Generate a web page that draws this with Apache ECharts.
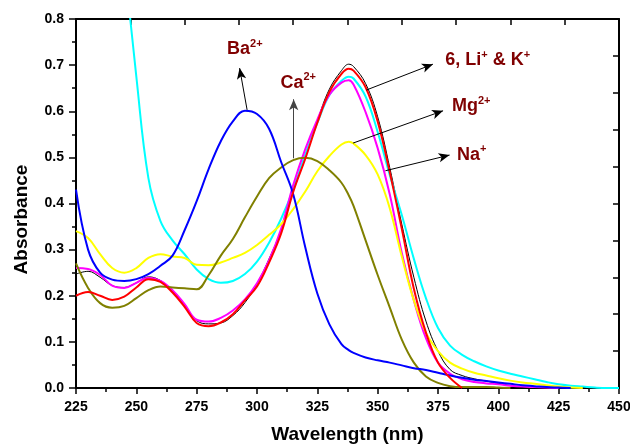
<!DOCTYPE html>
<html>
<head>
<meta charset="utf-8">
<script src="https://cdn.jsdelivr.net/npm/echarts@6/dist/echarts.min.js"></script>
<style>
  html, body { margin: 0; padding: 0; background: #fff; }
  #chart { width: 630px; height: 444px; }
</style>
</head>
<body>
<div id="chart"></div>
<script>
// wavelength grid (nm), shared by all spectra
var wavelength = [225, 230, 235, 240, 245, 250, 255, 260, 265, 270, 275, 280, 285, 290, 295,
  300, 305, 310, 315, 320, 325, 330, 335, 338, 340, 345, 350, 355, 360, 365, 370, 375, 380,
  385, 390, 395, 400, 405, 410, 415, 420, 425, 430, 435, 440, 445, 450];

// absorbance, null = not drawn
var ligand6 = [0.247, 0.253, 0.24, 0.222, 0.218, 0.228, 0.241, 0.233, 0.21, 0.18, 0.146, 0.139, 0.141, 0.157, 0.185,
  0.226, 0.28, 0.343, 0.43, 0.503, 0.58, 0.648, 0.688, 0.702, 0.697, 0.66, 0.588, 0.478, 0.355, 0.24, 0.145, 0.08, 0.04,
  0.027, 0.02, 0.015, 0.01, 0.005, 0.002, 0, null, null, null, null, null, null, null];
var potassium = [null, null, null, 1.2, 0.93, 0.675, 0.455, 0.362, 0.32, 0.29, 0.257, 0.236, 0.228, 0.232, 0.247,
  0.274, 0.315, 0.367, 0.43, 0.506, 0.575, 0.635, 0.666, 0.675, 0.671, 0.632, 0.555, 0.462, 0.375, 0.28, 0.195, 0.13, 0.092,
  0.072, 0.058, 0.047, 0.038, 0.031, 0.025, 0.019, 0.013, 0.008, 0.005, 0.003, 0.001, 0, 0];
var sodium = [0.26, 0.258, 0.245, 0.222, 0.217, 0.228, 0.239, 0.232, 0.212, 0.182, 0.148, 0.144, 0.152, 0.168, 0.192,
  0.227, 0.277, 0.345, 0.44, 0.518, 0.582, 0.636, 0.662, 0.667, 0.658, 0.598, 0.52, 0.42, 0.293, 0.19, 0.108, 0.055, 0.031,
  0.019, 0.013, 0.01, 0.008, 0.005, 0.003, 0.002, 0.001, 0, null, null, null, null, null];
var magnesium = [0.34, 0.325, 0.29, 0.26, 0.25, 0.26, 0.282, 0.29, 0.285, 0.282, 0.267, 0.266, 0.272, 0.282, 0.293,
  0.31, 0.332, 0.355, 0.388, 0.426, 0.47, 0.503, 0.528, 0.534, 0.53, 0.505, 0.463, 0.39, 0.285, 0.19, 0.12, 0.08, 0.055,
  0.042, 0.033, 0.027, 0.021, 0.016, 0.012, 0.009, 0.006, 0.003, 0.001, 0, null, null, null];
var calcium = [0.27, 0.217, 0.184, 0.174, 0.178, 0.195, 0.212, 0.22, 0.218, 0.216, 0.214, 0.245, 0.287, 0.323, 0.37,
  0.415, 0.455, 0.478, 0.494, 0.499, 0.492, 0.472, 0.445, 0.418, 0.395, 0.32, 0.245, 0.175, 0.105, 0.055, 0.025, 0.011, 0.004,
  0.002, 0.002, 0.002, 0.001, 0, null, null, null, null, null, null, null, null, null];
var barium = [0.43, 0.30, 0.25, 0.235, 0.232, 0.236, 0.247, 0.265, 0.287, 0.342, 0.405, 0.475, 0.535, 0.578, 0.601,
  0.594, 0.562, 0.49, 0.42, 0.305, 0.205, 0.138, 0.095, 0.082, 0.076, 0.066, 0.06, 0.055, 0.049, 0.043, 0.039, 0.033, 0.027,
  0.022, 0.018, 0.015, 0.012, 0.009, 0.006, 0.004, 0.002, 0.001, 0, null, null, null, null];
var lithium = [0.2, 0.208, 0.2, 0.191, 0.198, 0.218, 0.236, 0.23, 0.207, 0.176, 0.141, 0.134, 0.142, 0.16, 0.19,
  0.22, 0.272, 0.335, 0.425, 0.497, 0.575, 0.642, 0.681, 0.692, 0.688, 0.652, 0.578, 0.468, 0.345, 0.215, 0.12, 0.055, 0.022,
  0, null, null, null, null, null, null, null, null, null, null, null, null, null];

// annotation texts (anchored in data units) and arrows
var notes = [
  { text: '{b|Ba}{s|2+}', x: 287.6, y: 0.734 },
  { text: '{b|Ca}{s|2+}', x: 309.7, y: 0.662 },
  { text: '{b|6, Li}{s|+}{b| & K}{s|+}', x: 378, y: 0.711 },
  { text: '{b|Mg}{s|2+}', x: 380.8, y: 0.611 },
  { text: '{b|Na}{s|+}', x: 382.9, y: 0.506 }
];
var arrows = [
  { from: [295.9, 0.603], to: [292.8, 0.6935], color: '#000' },
  { from: [315.2, 0.498], to: [315.2, 0.626], color: '#444' },
  { from: [345.3, 0.646], to: [372.9, 0.702], color: '#000' },
  { from: [339.8, 0.531], to: [377.1, 0.601], color: '#000' },
  { from: [353.2, 0.471], to: [379.8, 0.505], color: '#000' }
];

var FONT = '"Liberation Sans", Arial, Helvetica, sans-serif';

var curves = [
  { name: '6', color: '#000000', width: 1, values: ligand6 },
  { name: 'K+', color: '#00ffff', width: 2, values: potassium },
  { name: 'Na+', color: '#ff00ff', width: 2, values: sodium },
  { name: 'Mg2+', color: '#ffff00', width: 2, values: magnesium },
  { name: 'Ca2+', color: '#808000', width: 2, values: calcium },
  { name: 'Ba2+', color: '#0000ff', width: 2, values: barium },
  { name: 'Li+', color: '#ff0000', width: 2, values: lithium }
];

var toPairs = function(values) {
  var out = [];
  for (var i = 0; i < values.length; i++) {
    if (values[i] !== null) out.push([wavelength[i], values[i]]);
  }
  return out;
};

var series = curves.map(function(c) {
  return {
    name: c.name,
    type: 'line',
    data: toPairs(c.values),
    smooth: 0.4,
    showSymbol: false,
    clip: true,
    lineStyle: { color: c.color, width: c.width },
    itemStyle: { color: c.color }
  };
});

series[series.length - 1].markLine = {
  silent: true,
  symbol: ['none', 'arrow'],
  symbolSize: [7, 11],
  label: { show: false },
  lineStyle: { color: '#000', width: 1, type: 'solid' },
  data: arrows.map(function(a) {
    return [
      { coord: a.from, lineStyle: { color: a.color }, itemStyle: { color: a.color } },
      { coord: a.to, itemStyle: { color: a.color } }
    ];
  })
};

var labelStyle = { color: '#000', fontWeight: 'bold', fontSize: 14, fontFamily: FONT };
var titleStyle = { color: '#000', fontWeight: 'bold', fontSize: 19, fontFamily: FONT };
var frame = { show: true, onZero: false, lineStyle: { color: '#000', width: 2 } };

var option = {
  animation: false,
  backgroundColor: '#fff',
  grid: { left: 76, right: 11, top: 19, bottom: 56, containLabel: false, outerBoundsMode: 'none' },
  xAxis: [
    {
      type: 'value', position: 'bottom', min: 225, max: 450, interval: 25,
      axisLine: frame,
      axisTick: { length: 6, lineStyle: { color: '#000', width: 1.5 } },
      minorTick: { show: true, splitNumber: 2, length: 4, lineStyle: { color: '#000', width: 1.5 } },
      axisLabel: Object.assign({ margin: 12 }, labelStyle),
      splitLine: { show: false },
      name: 'Wavelength (nm)', nameLocation: 'middle', nameGap: 37,
      nameTextStyle: titleStyle
    },
    {
      type: 'value', position: 'top', min: 0, max: 10, interval: 1,
      axisLine: frame,
      axisTick: { inside: true, length: 6, lineStyle: { color: '#000', width: 1.5 } },
      axisLabel: { show: false },
      splitLine: { show: false }
    }
  ],
  yAxis: [
    {
      type: 'value', position: 'left', min: 0, max: 0.8, interval: 0.1,
      axisLine: frame,
      axisTick: { length: 7, lineStyle: { color: '#000', width: 1.5 } },
      minorTick: { show: true, splitNumber: 2, length: 4, lineStyle: { color: '#000', width: 1.5 } },
      axisLabel: Object.assign({ margin: 12, formatter: function(v) { return v.toFixed(1); } }, labelStyle),
      splitLine: { show: false },
      name: 'Absorbance', nameLocation: 'middle', nameGap: 45,
      nameTextStyle: Object.assign({ padding: [0, 32, 0, 0] }, titleStyle)
    },
    {
      type: 'value', position: 'right', min: 0, max: 10, interval: 1,
      axisLine: frame,
      axisTick: { inside: true, length: 6, lineStyle: { color: '#000', width: 1.5 } },
      axisLabel: { show: false },
      splitLine: { show: false }
    }
  ],
  series: series
};

var chart = echarts.init(document.getElementById('chart'));
chart.setOption(option);

// place annotation labels using the axis scales
var graphics = notes.map(function(n) {
  var p = chart.convertToPixel({ xAxisIndex: 0, yAxisIndex: 0 }, [n.x, n.y]);
  return {
    type: 'text',
    x: p[0],
    y: p[1],
    z: 100,
    style: {
      text: n.text,
      fill: '#800000',
      align: 'left',
      verticalAlign: 'middle',
      font: 'bold 18px ' + FONT,
      rich: {
        b: { fontSize: 18, fontWeight: 'bold', fontFamily: FONT, lineHeight: 22, fill: '#800000' },
        s: { fontSize: 11, fontWeight: 'bold', fontFamily: FONT, lineHeight: 8, verticalAlign: 'top', fill: '#800000' }
      }
    }
  };
});
chart.setOption({ graphic: graphics });
</script>
</body>
</html>
